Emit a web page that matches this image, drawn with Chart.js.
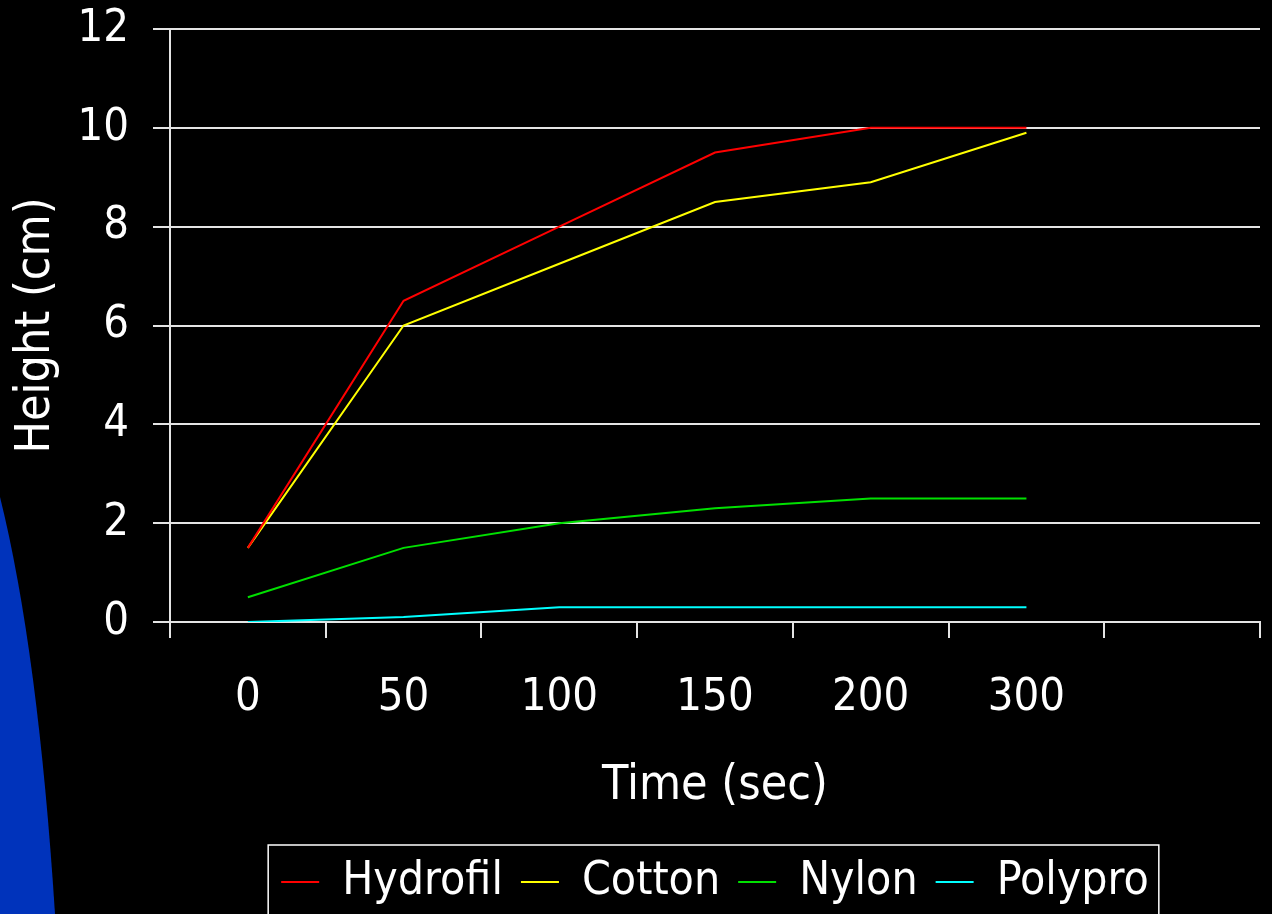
<!DOCTYPE html>
<html>
<head>
<meta charset="utf-8">
<title>Height vs Time</title>
<script src="https://cdn.jsdelivr.net/npm/chart.js@4.4.0/dist/chart.umd.min.js"></script>
<style>
  html, body { margin: 0; padding: 0; background: #000; }
  #wrap { width: 1272px; height: 914px; position: relative; }
</style>
</head>
<body>
<div id="wrap"><canvas id="myChart"></canvas></div>
<script>
var categories = ["0", "50", "100", "150", "200", "300", ""];
var hydrofil = [1.5, 6.5, 8, 9.5, 10, 10];
var cotton = [1.5, 6, 7.25, 8.5, 8.9, 9.9];
var nylon = [0.5, 1.5, 2, 2.3, 2.5, 2.5];
var polypro = [0, 0.1, 0.3, 0.3, 0.3, 0.3];
var seriesNames = ["Hydrofil", "Cotton", "Nylon", "Polypro"];
var seriesColors = ["#ff0000", "#ffff00", "#00e000", "#00ffff"];
var yMin = 0, yMax = 12, yStep = 2;

Chart.defaults.font.family = "'Liberation Sans Narrow', 'Arial Narrow', 'DejaVu Sans Condensed', sans-serif";
Chart.defaults.color = "#ffffff";

var axisColor = "#e4e4e4";

// black slide, blue swoosh in the corner, frame around the legend
var slideBackground = {
    id: "slideBackground",
    beforeDraw: function (chart) {
        var ctx = chart.ctx;
        ctx.save();
        ctx.fillStyle = "#000000";
        ctx.fillRect(0, 0, chart.width, chart.height);
        ctx.fillStyle = "#0033bb";
        ctx.beginPath();
        ctx.moveTo(0, 497);
        ctx.quadraticCurveTo(38, 650, 55, chart.height);
        ctx.lineTo(0, chart.height);
        ctx.closePath();
        ctx.fill();
        ctx.restore();
    },
    afterDraw: function (chart) {
        var boxes = chart.legend.legendHitBoxes;
        if (!boxes || !boxes.length) return;
        var first = boxes[0];
        var last = boxes[boxes.length - 1];
        var ctx = chart.ctx;
        ctx.save();
        ctx.strokeStyle = "#ffffff";
        ctx.lineWidth = 1.5;
        ctx.strokeRect(first.left - 13, first.top - 14, last.left + last.width - first.left + 23, 100);
        ctx.restore();
    }
};

var values = [hydrofil, cotton, nylon, polypro];
var datasets = [];
values.forEach(function (v, i) {
    datasets.push({
        label: seriesNames[i],
        data: v,
        borderColor: seriesColors[i],
        backgroundColor: seriesColors[i],
        borderWidth: 2,
        pointRadius: 0,
        tension: 0,
        fill: false
    });
});

var chart = new Chart(document.getElementById("myChart"), {
    type: "line",
    data: {
        labels: categories,
        datasets: datasets
    },
    plugins: [slideBackground],
    options: {
        responsive: true,
        maintainAspectRatio: false,
        animation: false,
        layout: {
            padding: { top: 29, right: 12, bottom: -1, left: 0 }
        },
        plugins: {
            tooltip: { enabled: false },
            legend: {
                position: "bottom",
                fullSize: false,
                labels: {
                    usePointStyle: true,
                    pointStyle: "line",
                    pointStyleWidth: 38,
                    padding: 18,
                    color: "#ffffff",
                    font: { size: 46 }
                }
            }
        },
        scales: {
            x: {
                type: "category",
                offset: true,
                grid: {
                    display: true,
                    drawOnChartArea: false,
                    drawTicks: true,
                    tickLength: 16,
                    offset: true,
                    color: axisColor,
                    lineWidth: 2
                },
                border: { display: true, color: axisColor, width: 2 },
                ticks: {
                    autoSkip: false,
                    maxRotation: 0,
                    padding: 36,
                    color: "#ffffff",
                    font: { size: 45, lineHeight: 1.1 }
                },
                title: {
                    display: true,
                    text: "Time (sec)",
                    color: "#ffffff",
                    font: { size: 48 },
                    padding: { top: -1.8, bottom: 25.7 }
                }
            },
            y: {
                min: yMin,
                max: yMax,
                ticks: {
                    stepSize: yStep,
                    padding: 24,
                    color: "#ffffff",
                    font: { size: 45, lineHeight: 1.1 }
                },
                grid: {
                    color: axisColor,
                    lineWidth: 2,
                    tickLength: 17
                },
                border: { display: true, color: axisColor, width: 2 },
                title: {
                    display: true,
                    text: "Height (cm)",
                    color: "#ffffff",
                    font: { size: 48 },
                    padding: { top: 7.7, bottom: 0 }
                },
                afterFit: function (scale) {
                    scale.width = 170;
                    scale.paddingTop = 0;
                    scale.paddingBottom = 0;
                }
            }
        }
    }
});
</script>
</body>
</html>
